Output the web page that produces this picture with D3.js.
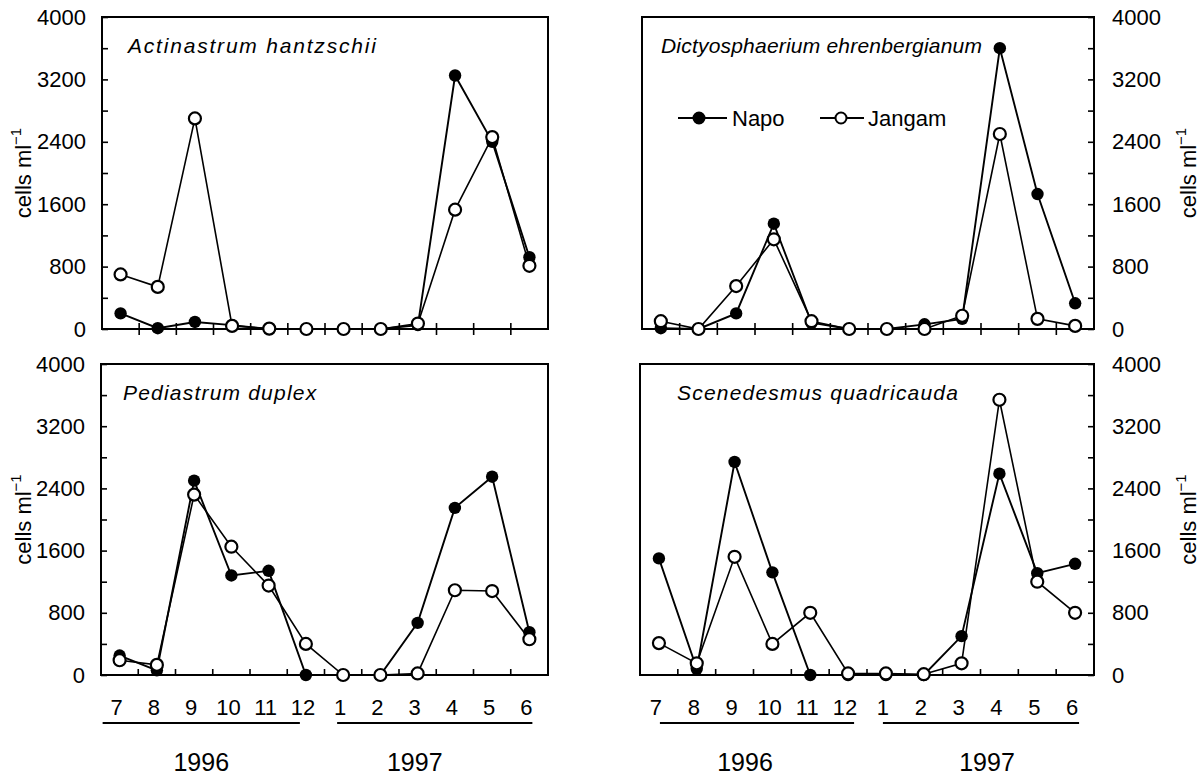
<!DOCTYPE html>
<html>
<head>
<meta charset="utf-8">
<script src="https://cdn.jsdelivr.net/npm/d3@7"></script>
<style>
  body { margin: 0; background: #fff; }
  text { font-family: "Liberation Sans", Arial, sans-serif; fill: #000; }
</style>
</head>
<body>
<script>
// months, July 1996 .. June 1997
var months = ["7","8","9","10","11","12","1","2","3","4","5","6"];
var years = [
  { label: "1996", first: "7", last: "12" },
  { label: "1997", first: "1", last: "6" }
];
var yTicks = [0, 800, 1600, 2400, 3200, 4000];
var seriesNames = ["Napo", "Jangam"];

// cells ml-1
var actinastrumNapo   = [200, 10, 90, 50, 0, 0, 0, 0, 50, 3250, 2400, 920];
var actinastrumJangam = [700, 540, 2700, 40, 5, 0, 0, 0, 70, 1530, 2460, 810];

var dictyoNapo   = [10, 0, 200, 1350, 80, 0, 0, 60, 130, 3600, 1730, 330];
var dictyoJangam = [100, 0, 550, 1150, 100, 0, 0, 0, 170, 2500, 130, 40];

var pediastrumNapo   = [250, 60, 2500, 1280, 1340, 0, 0, 0, 670, 2150, 2550, 550];
var pediastrumJangam = [190, 130, 2320, 1650, 1150, 400, 0, 0, 20, 1090, 1080, 460];

var scenedesmusNapo   = [1500, 80, 2740, 1320, 0, 0, 0, 0, 500, 2590, 1310, 1430];
var scenedesmusJangam = [410, 150, 1520, 400, 800, 20, 20, 10, 150, 3540, 1200, 800];

var species = ["Actinastrum hantzschii", "Dictyosphaerium ehrenbergianum",
               "Pediastrum duplex", "Scenedesmus quadricauda"];
var panelData = [
  [actinastrumNapo, actinastrumJangam],
  [dictyoNapo, dictyoJangam],
  [pediastrumNapo, pediastrumJangam],
  [scenedesmusNapo, scenedesmusJangam]
];

// panel layout (underline / year label offsets are in px around the band centres)
var panels = [
  { x0: 102, x1: 548, y0: 17, y1: 329, side: "left",  bottom: false, legend: false, tdx: 26, ls: 1.8 },
  { x0: 642, x1: 1094, y0: 17, y1: 329, side: "right", bottom: false, legend: true, tdx: 19, ls: 0.2 },
  { x0: 101, x1: 548, y0: 364, y1: 675, side: "left",  bottom: true,  legend: false, tdx: 22, ls: 1.2,
    under: [[-17, -6], [-6, 3]], ylab: [0, -20] },
  { x0: 640, x1: 1094, y0: 364, y1: 675, side: "right", bottom: true,  legend: false, tdx: 37, ls: 1.2,
    under: [[1, 6], [-3, 4]], ylab: [-12, 6] }
];

var svg = d3.select("body").append("svg")
  .attr("width", 1202)
  .attr("height", 780);

panels.forEach(function (p, i) {
  var g = svg.append("g");

  var x = d3.scaleBand().domain(months).range([p.x0, p.x1]);
  var cx = function (m) { return x(m) + x.bandwidth() / 2; };
  var y = d3.scaleLinear().domain([0, 4000]).range([p.y1, p.y0]);

  // frame
  g.append("rect")
    .attr("x", p.x0).attr("y", p.y0)
    .attr("width", p.x1 - p.x0).attr("height", p.y1 - p.y0)
    .attr("fill", "none").attr("stroke", "#000").attr("stroke-width", 2);

  // y axis, ticks every 400 pointing inward
  var yAxis = (p.side === "left" ? d3.axisLeft(y) : d3.axisRight(y))
    .tickValues(d3.range(0, 4001, 400))
    .tickSizeInner(-6).tickSizeOuter(0)
    .tickPadding(p.side === "left" ? 16 : 18)
    .tickFormat(function (d) { return yTicks.indexOf(d) >= 0 ? d : ""; });
  var ya = g.append("g")
    .attr("transform", "translate(" + (p.side === "left" ? p.x0 : p.x1) + ",0)")
    .call(yAxis);
  ya.select(".domain").remove();
  ya.selectAll("line").attr("stroke", "#000").attr("stroke-width", 1.6);
  ya.selectAll("text").attr("font-size", 22).attr("font-family", "Liberation Sans, Arial, sans-serif");

  // y title
  var tx = p.side === "left" ? 31 : 1196;
  var ty = (p.y0 + p.y1) / 2;
  var t = g.append("text")
    .attr("transform", "translate(" + tx + "," + ty + ") rotate(-90)")
    .attr("text-anchor", "middle")
    .attr("font-size", 22);
  t.append("tspan").text("cells ml");
  t.append("tspan").attr("dy", -10).attr("font-size", 15).text("\u22121");

  // x ticks at month boundaries
  var bounds = months.slice(1).map(function (m) { return x(m); });
  g.selectAll("line.xt").data(bounds).enter().append("line")
    .attr("class", "xt")
    .attr("x1", function (d) { return d; }).attr("x2", function (d) { return d; })
    .attr("y1", p.y1 - 6)
    .attr("y2", p.bottom ? p.y1 : p.y1 + 6)
    .attr("stroke", "#000").attr("stroke-width", 1.6);

  if (p.bottom) {
    var xa = g.append("g")
      .attr("transform", "translate(" + (-3) + "," + p.y1 + ")")
      .call(d3.axisBottom(x).tickSize(0).tickPadding(24));
    xa.select(".domain").remove();
    xa.selectAll("text").attr("font-size", 22).attr("font-family", "Liberation Sans, Arial, sans-serif");

    years.forEach(function (yr, k) {
      var a = cx(yr.first) + p.under[k][0], b = cx(yr.last) + p.under[k][1];
      g.append("line")
        .attr("x1", a).attr("x2", b)
        .attr("y1", 723).attr("y2", 723)
        .attr("stroke", "#000").attr("stroke-width", 2);
      g.append("text")
        .attr("x", (a + b) / 2 + p.ylab[k]).attr("y", 771)
        .attr("text-anchor", "middle")
        .attr("font-size", 25)
        .text(yr.label);
    });
  }

  // species name
  g.append("text")
    .attr("x", p.x0 + p.tdx)
    .attr("y", p.y0 + 36)
    .attr("font-size", 21)
    .attr("letter-spacing", p.ls)
    .attr("font-style", "italic")
    .text(species[i]);

  var line = d3.line()
    .x(function (d, j) { return cx(months[j]); })
    .y(function (d) { return y(d); });

  var napo = panelData[i][0], jangam = panelData[i][1];

  g.append("path").datum(napo).attr("d", line)
    .attr("fill", "none").attr("stroke", "#000").attr("stroke-width", 1.9);
  g.append("path").datum(jangam).attr("d", line)
    .attr("fill", "none").attr("stroke", "#000").attr("stroke-width", 1.6);

  g.selectAll("circle.napo").data(napo).enter().append("circle")
    .attr("class", "napo")
    .attr("cx", function (d, j) { return cx(months[j]); })
    .attr("cy", function (d) { return y(d); })
    .attr("r", 6.2).attr("fill", "#000");

  g.selectAll("circle.jangam").data(jangam).enter().append("circle")
    .attr("class", "jangam")
    .attr("cx", function (d, j) { return cx(months[j]); })
    .attr("cy", function (d) { return y(d); })
    .attr("r", 6).attr("fill", "#fff").attr("stroke", "#000").attr("stroke-width", 2.2);

  if (p.legend) {
    var ly = 118;
    var items = [
      { name: seriesNames[0], a: 678, c: 699, b: 727, tx: 732, fill: "#000" },
      { name: seriesNames[1], a: 820, c: 841, b: 864, tx: 868, fill: "#fff" }
    ];
    items.forEach(function (it) {
      g.append("line").attr("x1", it.a).attr("x2", it.b)
        .attr("y1", ly).attr("y2", ly)
        .attr("stroke", "#000").attr("stroke-width", 1.8);
      g.append("circle").attr("cx", it.c).attr("cy", ly).attr("r", 5.5)
        .attr("fill", it.fill).attr("stroke", "#000").attr("stroke-width", 2);
      g.append("text").attr("x", it.tx).attr("y", ly + 8)
        .attr("font-size", 22).text(it.name);
    });
  }
});
</script>
</body>
</html>
